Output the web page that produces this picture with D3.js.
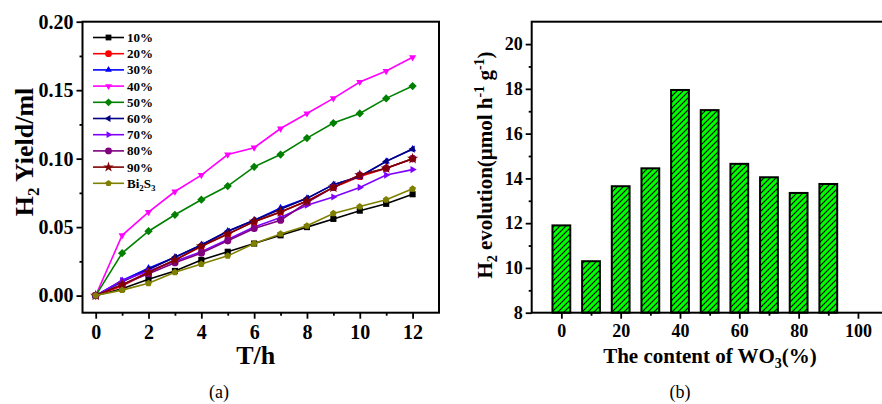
<!DOCTYPE html>
<html>
<head>
<meta charset="utf-8">
<script src="https://cdn.jsdelivr.net/npm/d3@7"></script>
<style>
  body { margin: 0; background: #fff; }
  svg { display: block; font-family: "Liberation Serif", "Times New Roman", serif; }
  .bold { font-weight: bold; }
</style>
</head>
<body>
<svg id="chart" width="882" height="404"></svg>
<script>
// ---------- data: (a) H2 yield vs time ----------
const hours = [0, 1, 2, 3, 4, 5, 6, 7, 8, 9, 10, 11, 12];
const seriesNames = ["10%", "20%", "30%", "40%", "50%", "60%", "70%", "80%", "90%", "Bi2S3"];
const y10 = [0, 0.005, 0.012, 0.018, 0.026, 0.032, 0.038, 0.044, 0.050, 0.056, 0.062, 0.067, 0.074];
const y20 = [0, 0.007, 0.017, 0.026, 0.036, 0.045, 0.054, 0.061, 0.069, 0.079, 0.087, 0.093, 0.100];
const y30 = [0, 0.011, 0.020, 0.028, 0.037, 0.047, 0.055, 0.064, 0.071, 0.081, 0.087, 0.098, 0.107];
const y40 = [0, 0.044, 0.061, 0.076, 0.088, 0.103, 0.108, 0.122, 0.133, 0.144, 0.156, 0.164, 0.174];
const y50 = [0, 0.031, 0.047, 0.059, 0.070, 0.080, 0.094, 0.103, 0.115, 0.126, 0.133, 0.144, 0.153];
const y60 = [0, 0.010, 0.019, 0.028, 0.037, 0.047, 0.055, 0.063, 0.071, 0.081, 0.087, 0.098, 0.107];
const y70 = [0, 0.011, 0.018, 0.025, 0.032, 0.041, 0.050, 0.057, 0.066, 0.072, 0.079, 0.088, 0.092];
const y80 = [0, 0.008, 0.016, 0.024, 0.031, 0.040, 0.049, 0.055, 0.068, 0.079, 0.088, 0.093, 0.100];
const y90 = [0, 0.008, 0.017, 0.026, 0.036, 0.045, 0.054, 0.061, 0.069, 0.079, 0.088, 0.093, 0.100];
const yBi = [0, 0.004, 0.009, 0.017, 0.023, 0.029, 0.038, 0.045, 0.051, 0.060, 0.065, 0.070, 0.078];
const seriesValues = [y10, y20, y30, y40, y50, y60, y70, y80, y90, yBi];
const seriesColors = ["#000000", "#ff0000", "#0000ff", "#ff00ff", "#008000", "#000080", "#8000ff", "#800080", "#800000", "#808000"];
const seriesMarkers = ["square", "circle", "up", "down", "diamond", "left", "right", "circle", "star", "pentagon"];
const xTicksA = [0, 2, 4, 6, 8, 10, 12];
const yTicksA = [0, 0.05, 0.10, 0.15, 0.20];

// ---------- data: (b) H2 evolution vs WO3 content ----------
const wo3 = [0, 10, 20, 30, 40, 50, 60, 70, 80, 90];
const evolution = [11.9, 10.3, 13.65, 14.45, 17.95, 17.05, 14.65, 14.05, 13.35, 13.75];
const xTicksB = [0, 20, 40, 60, 80, 100];
const yTicksB = [8, 10, 12, 14, 16, 18, 20];

const svg = d3.select("#chart");

// pattern for hatched bars
const defs = svg.append("defs");
const pat = defs.append("pattern")
  .attr("id", "hatch")
  .attr("patternUnits", "userSpaceOnUse")
  .attr("width", 6).attr("height", 6);
pat.append("rect").attr("width", 6).attr("height", 6).attr("fill", "#00ff00");
pat.append("path")
  .attr("d", "M-1,1 l2,-2 M0,6 l6,-6 M5,7 l2,-2")
  .attr("stroke", "#000").attr("stroke-width", 1.1);

//marker path generator
function markerPath(type, r) {
  const tri = (rot) => {
    const pts = [0, 120, 240].map(a => {
      const t = (a + rot) * Math.PI / 180;
      return [r * 1.15 * Math.sin(t), -r * 1.15 * Math.cos(t)];
    });
    return "M" + pts.map(p => p.join(",")).join("L") + "Z";
  };
  if (type == "square") return `M${-r * 0.85},${-r * 0.85}h${r * 1.7}v${r * 1.7}h${-r * 1.7}Z`;
  if (type == "circle") return d3.symbol(d3.symbolCircle, Math.PI * r * r)();
  if (type == "up") return tri(0);
  if (type == "down") return tri(180);
  if (type == "left") return tri(270);
  if (type == "right") return tri(90);
  if (type == "diamond") return `M0,${-r * 1.15}L${r * 1.15},0L0,${r * 1.15}L${-r * 1.15},0Z`;
  if (type == "star") return d3.symbol(d3.symbolStar, r * r * 3)();
  if (type == "pentagon") {
    let pts = d3.range(5).map(i => {
      const t = i * 2 * Math.PI / 5;
      return [r * Math.sin(t), -r * Math.cos(t)];
    });
    return "M" + pts.map(p => p.join(",")).join("L") + "Z";
  }
}

//----------panel (a)----------
const A = { left: 82.5, right: 439, top: 21.7, bottom: 312.7 };
const xA = d3.scaleLinear().domain([-0.5, 13]).range([A.left, A.right]);
const yA = d3.scaleLinear().domain([-0.0125, 0.20]).range([A.bottom, A.top]);

const gA = svg.append("g");

// axes
gA.append("g")
  .attr("transform", `translate(0,${A.bottom})`)
  .call(d3.axisBottom(xA).tickValues(d3.range(1, 13, 2)).tickSize(3).tickFormat(""))
  .call(g => g.select(".domain").remove());
gA.append("g")
  .attr("transform", `translate(0,${A.bottom})`)
  .call(d3.axisBottom(xA).tickValues(xTicksA).tickSize(6).tickPadding(6).tickFormat(d3.format("d")))
  .call(g => g.select(".domain").remove())
  .call(g => g.selectAll("text").attr("class", "bold").style("font-size", "20px").style("font-family", "Liberation Serif"));
gA.append("g")
  .attr("transform", `translate(${A.left},0)`)
  .call(d3.axisLeft(yA).tickValues([0.025, 0.075, 0.125, 0.175]).tickSize(3).tickFormat(""))
  .call(g => g.select(".domain").remove());
gA.append("g")
  .attr("transform", `translate(${A.left},0)`)
  .call(d3.axisLeft(yA).tickValues(yTicksA).tickSize(6).tickPadding(3).tickFormat(d3.format(".2f")))
  .call(g => g.select(".domain").remove())
  .call(g => g.selectAll("text").attr("class", "bold").style("font-size", "20px").style("font-family", "Liberation Serif"));
gA.selectAll(".tick line").attr("stroke-width", 1.8);

gA.append("rect")
  .attr("x", A.left).attr("y", A.top)
  .attr("width", A.right - A.left).attr("height", A.bottom - A.top)
  .attr("fill", "none").attr("stroke", "#000").attr("stroke-width", 2);

// lines
const line = d3.line().x((d, i) => xA(hours[i])).y(d => yA(d));
seriesValues.forEach((vals, k) => {
  const g = gA.append("g");
  g.append("path")
    .attr("d", line(vals))
    .attr("fill", "none")
    .attr("stroke", seriesColors[k])
    .attr("stroke-width", 1.6);
  g.selectAll("path.m")
    .data(vals)
    .join("path")
    .attr("class", "m")
    .attr("d", markerPath(seriesMarkers[k], 3.6))
    .attr("transform", (d, i) => `translate(${xA(hours[i])},${yA(d)})`)
    .attr("fill", seriesColors[k]);
});

// legend
const leg = gA.append("g").attr("transform", `translate(93,37.5)`);
seriesNames.forEach((name, k) => {
  const row = leg.append("g").attr("transform", `translate(0,${k * 16.2})`);
  row.append("line").attr("x1", 0).attr("x2", 31).attr("stroke", seriesColors[k]).attr("stroke-width", 1.6);
  row.append("path").attr("d", markerPath(seriesMarkers[k], 3.4)).attr("transform", "translate(15.5,0)").attr("fill", seriesColors[k]);
  const t = row.append("text").attr("class", "bold").attr("x", 34).attr("y", 4.5).style("font-size", "13px");
  if (name == "Bi2S3") {
    t.append("tspan").text("Bi");
    t.append("tspan").attr("dy", 3).style("font-size", "9px").text("2");
    t.append("tspan").attr("dy", -3).text("S");
    t.append("tspan").attr("dy", 3).style("font-size", "9px").text("3");
  } else {
    t.text(name);
  }
});

// axis labels
gA.append("text").attr("class", "bold")
  .attr("x", (A.left + A.right) / 2 - 5).attr("y", 364)
  .attr("text-anchor", "middle").style("font-size", "26px").text("T/h");
const ylA = gA.append("text").attr("class", "bold")
  .attr("transform", `translate(33,152) rotate(-90)`)
  .attr("text-anchor", "middle").style("font-size", "26px");
ylA.append("tspan").text("H");
ylA.append("tspan").attr("dy", 6).style("font-size", "17px").text("2");
ylA.append("tspan").attr("dy", -6).text(" Yield/ml");

svg.append("text").attr("x", 219).attr("y", 398).attr("text-anchor", "middle")
  .style("font-size", "18px").text("(a)");

//----------panel (b)----------
const B = { left: 531.7, top: 21.7, bottom: 312.7 };
const xB = d3.scaleLinear().domain([-10, 110]).range([B.left, B.left + 120 * 2.966]);
const yB = d3.scaleLinear().domain([8, 21]).range([B.bottom, B.top]);

const gB = svg.append("g");

gB.append("g")
  .attr("transform", `translate(0,${B.bottom})`)
  .call(d3.axisBottom(xB).tickValues([10, 30, 50, 70, 90]).tickSize(3).tickFormat(""))
  .call(g => g.select(".domain").remove());
gB.append("g")
  .attr("transform", `translate(0,${B.bottom})`)
  .call(d3.axisBottom(xB).tickValues(xTicksB).tickSize(6).tickPadding(6).tickFormat(d3.format("d")))
  .call(g => g.select(".domain").remove())
  .call(g => g.selectAll("text").attr("class", "bold").style("font-size", "18px").style("font-family", "Liberation Serif"));
gB.append("g")
  .attr("transform", `translate(${B.left},0)`)
  .call(d3.axisLeft(yB).tickValues([9, 11, 13, 15, 17, 19]).tickSize(3).tickFormat(""))
  .call(g => g.select(".domain").remove());
gB.append("g")
  .attr("transform", `translate(${B.left},0)`)
  .call(d3.axisLeft(yB).tickValues(yTicksB).tickSize(6).tickPadding(3).tickFormat(d3.format("d")))
  .call(g => g.select(".domain").remove())
  .call(g => g.selectAll("text").attr("class", "bold").style("font-size", "18px").style("font-family", "Liberation Serif"));
gB.selectAll(".tick line").attr("stroke-width", 1.8);

// bars
const bw = xB(6) - xB(0);
gB.selectAll("rect.bar")
  .data(evolution)
  .join("rect")
  .attr("class", "bar")
  .attr("x", (d, i) => xB(wo3[i]) - bw / 2)
  .attr("y", d => yB(d))
  .attr("width", bw)
  .attr("height", d => yB(8) - yB(d))
  .attr("fill", "url(#hatch)")
  .attr("stroke", "#000")
  .attr("stroke-width", 2);

gB.append("rect")
  .attr("x", B.left).attr("y", B.top)
  .attr("width", xB(110) - B.left).attr("height", B.bottom - B.top)
  .attr("fill", "none").attr("stroke", "#000").attr("stroke-width", 2);

// axis labels
const xlB = gB.append("text").attr("class", "bold")
  .attr("x", 710).attr("y", 363)
  .attr("text-anchor", "middle").style("font-size", "21px");
xlB.append("tspan").text("The content of WO");
xlB.append("tspan").attr("dy", 5).style("font-size", "14px").text("3");
xlB.append("tspan").attr("dy", -5).text("(%)");

const ylB = gB.append("text").attr("class", "bold")
  .attr("transform", `translate(492,165) rotate(-90)`)
  .attr("text-anchor", "middle").style("font-size", "21px");
ylB.append("tspan").text("H");
ylB.append("tspan").attr("dy", 5).style("font-size", "14px").text("2");
ylB.append("tspan").attr("dy", -5).text(" evolution(\u03bcmol h");
ylB.append("tspan").attr("dy", -8).style("font-size", "14px").text("-1");
ylB.append("tspan").attr("dy", 8).text(" g");
ylB.append("tspan").attr("dy", -8).style("font-size", "14px").text("-1");
ylB.append("tspan").attr("dy", 8).text(")");

svg.append("text").attr("x", 680).attr("y", 398).attr("text-anchor", "middle")
  .style("font-size", "18px").text("(b)");
</script>
</body>
</html>
